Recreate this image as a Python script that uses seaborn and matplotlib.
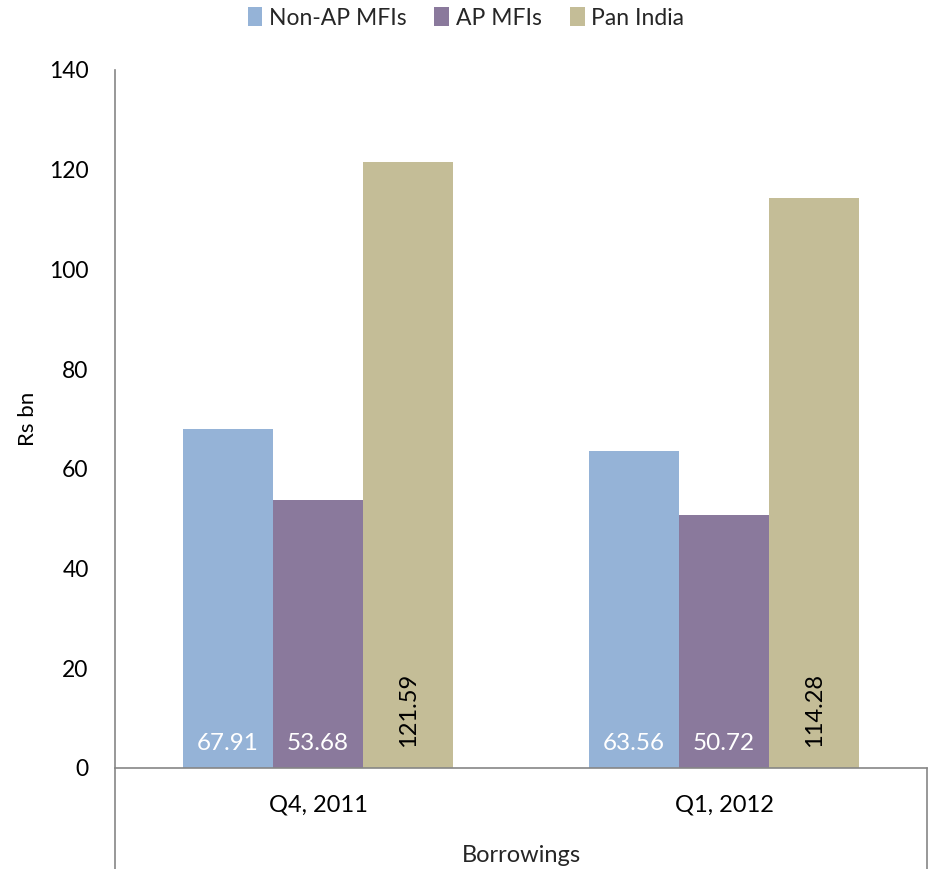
import matplotlib
matplotlib.use("Agg")
import matplotlib.pyplot as plt
import seaborn as sns
import pandas as pd

categories = ["Q4, 2011", "Q1, 2012"]
series_names = ["Non-AP MFIs", "AP MFIs", "Pan India"]
non_ap = [67.91, 63.56]
ap = [53.68, 50.72]
pan_india = [121.59, 114.28]
colors = ["#95B3D7", "#8A799C", "#C4BD97"]
y_ticks = [0, 20, 40, 60, 80, 100, 120, 140]

sns.set_theme(style="white")
plt.rcParams["font.family"] = ["Lato", "DejaVu Sans"]

rows = []
for name, vals in zip(series_names, [non_ap, ap, pan_india]):
    for cat, v in zip(categories, vals):
        rows.append({"Quarter": cat, "Series": name, "Value": v})
df = pd.DataFrame(rows)

fig = plt.figure(figsize=(9.32, 8.69), dpi=100)
ax = fig.add_axes([115 / 932, 1 - 768 / 869, 812 / 932, 698 / 869])

sns.barplot(data=df, x="Quarter", y="Value", hue="Series", order=categories,
            hue_order=series_names, palette=colors, width=0.666,
            saturation=1, edgecolor="none", linewidth=0, ax=ax, legend=True)

ax.set_xlim(-0.5, 1.5)
ax.set_ylim(0, 140)
ax.set_yticks(y_ticks)
ax.set_yticklabels([str(t) for t in y_ticks], fontsize=16.5, color="black")
ax.tick_params(axis="y", length=0, pad=19)
ax.tick_params(axis="x", length=0, pad=19, labelsize=17, colors="black")
ax.set_ylabel("Rs bn", fontsize=16, color="black", labelpad=8)
ax.set_xlabel("")

for s in ["top", "right"]:
    ax.spines[s].set_visible(False)
for s in ["left", "bottom"]:
    ax.spines[s].set_color("#868686")
    ax.spines[s].set_linewidth(1.2)

# category box lines below the axis
for xpos in (0, 1):
    ax.plot([xpos, xpos], [0, -101 / 698], transform=ax.transAxes,
            color="#868686", lw=1.2, clip_on=False)
ax.text(0.5, -87 / 698, "Borrowings", transform=ax.transAxes,
        ha="center", va="center", fontsize=17)

# value labels at the base of each bar
all_vals = [non_ap, ap, pan_india]
for i, container in enumerate(ax.containers):
    for patch, v in zip(container.patches, all_vals[i]):
        xc = patch.get_x() + patch.get_width() / 2
        if i < 2:
            ax.annotate(f"{v:.2f}", (xc, 0), xytext=(0, 10), textcoords="offset points",
                        ha="center", va="bottom", color="white", fontsize=17.5)
        else:
            ax.annotate(f"{v:.2f}", (xc, 0), xytext=(0, 15), textcoords="offset points",
                        ha="center", va="bottom", rotation=90, color="black", fontsize=17)

handles, labels = ax.get_legend_handles_labels()
ax.get_legend().remove()
fig.legend(handles, labels, loc="center", bbox_to_anchor=(466 / 932, 1 - 18 / 869),
           ncol=3, frameon=False, fontsize=16.5, handlelength=0.65, handleheight=0.9,
           handletextpad=0.3, columnspacing=1.2)

fig.savefig("out.png", dpi=100)
